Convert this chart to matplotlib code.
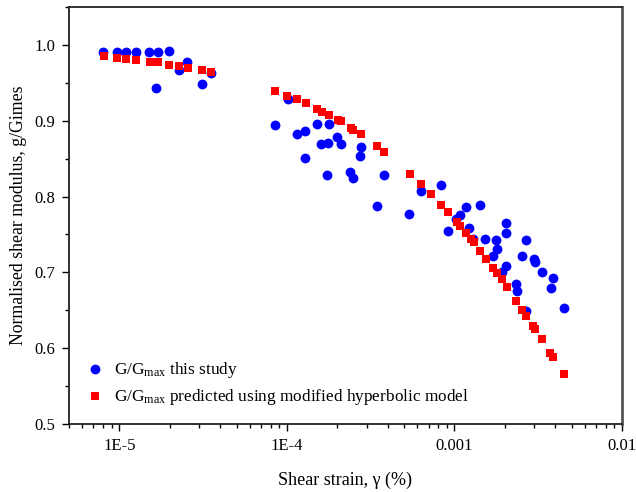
import matplotlib
matplotlib.use("Agg")
import matplotlib.pyplot as plt
from matplotlib.ticker import FixedLocator, FixedFormatter, LogLocator, MultipleLocator, NullFormatter

plt.rcParams['font.family'] = ['Liberation Serif', 'DejaVu Serif']
plt.rcParams['mathtext.fontset'] = 'custom'
plt.rcParams['mathtext.rm'] = 'Liberation Serif'
plt.rcParams['mathtext.it'] = 'Liberation Serif:italic'

# Measured G/Gmax
strain_study = [8.0e-6, 9.62e-6, 1.089e-5, 1.254e-5, 1.505e-5, 1.689e-5, 1.965e-5, 1.650e-5,
                2.254e-5, 2.535e-5, 3.114e-5, 3.510e-5,
                1.01e-4, 8.45e-5, 1.142e-4, 1.288e-4, 1.518e-4, 1.780e-4, 1.588e-4, 1.756e-4,
                1.986e-4, 2.089e-4, 2.776e-4, 2.723e-4, 1.288e-4, 1.741e-4, 2.374e-4, 2.487e-4,
                3.806e-4, 3.424e-4,
                8.32e-4, 6.32e-4, 5.335e-4, 1.1665e-3, 1.413e-3, 1.0844e-3, 1.022e-3, 9.11e-4,
                1.227e-3, 1.2965e-3, 2.030e-3, 2.030e-3, 1.522e-3, 1.770e-3, 1.784e-3, 1.698e-3,
                2.030e-3, 1.922e-3, 2.672e-3, 2.529e-3, 2.965e-3, 3.034e-3, 3.327e-3, 3.886e-3,
                3.765e-3, 2.328e-3, 2.361e-3, 2.672e-3, 4.519e-3]
ggmax_study = [0.991, 0.991, 0.991, 0.991, 0.991, 0.991, 0.992, 0.943,
               0.967, 0.978, 0.949, 0.963,
               0.928, 0.895, 0.882, 0.886, 0.896, 0.896, 0.869, 0.871,
               0.878, 0.869, 0.866, 0.854, 0.851, 0.829, 0.832, 0.825,
               0.828, 0.787,
               0.815, 0.807, 0.777, 0.786, 0.789, 0.775, 0.771, 0.755,
               0.759, 0.744, 0.765, 0.752, 0.744, 0.743, 0.731, 0.722,
               0.709, 0.700, 0.743, 0.721, 0.717, 0.714, 0.701, 0.692,
               0.679, 0.685, 0.675, 0.649, 0.653]

# Modified hyperbolic model prediction
strain_model = [8.08e-6, 9.62e-6, 1.089e-5, 1.254e-5, 1.520e-5, 1.689e-5, 1.972e-5, 2.272e-5,
                2.550e-5, 3.131e-5, 3.510e-5,
                8.45e-5, 1.0055e-4, 1.153e-4, 1.293e-4, 1.518e-4, 1.617e-4, 1.772e-4, 2.013e-4,
                2.110e-4, 2.397e-4, 2.487e-4, 2.750e-4, 3.424e-4, 3.806e-4,
                5.438e-4, 6.32e-4, 7.25e-4, 8.32e-4, 9.11e-4, 1.036e-3, 1.0844e-3, 1.1727e-3,
                1.249e-3, 1.300e-3, 1.427e-3, 1.543e-3, 1.689e-3, 1.784e-3, 1.911e-3, 2.047e-3,
                2.328e-3, 2.529e-3, 2.672e-3, 2.924e-3, 3.034e-3, 3.309e-3, 3.728e-3, 3.869e-3,
                4.476e-3]
ggmax_model = [0.985, 0.983, 0.982, 0.980, 0.978, 0.977, 0.974, 0.972,
               0.970, 0.967, 0.964,
               0.939, 0.933, 0.928, 0.923, 0.915, 0.912, 0.908, 0.901,
               0.899, 0.891, 0.888, 0.882, 0.867, 0.859,
               0.830, 0.817, 0.803, 0.789, 0.779, 0.766, 0.761, 0.752,
               0.744, 0.740, 0.728, 0.718, 0.706, 0.699, 0.691, 0.681,
               0.662, 0.651, 0.643, 0.629, 0.625, 0.612, 0.593, 0.588,
               0.566]

x_ticks = [1e-5, 1e-4, 1e-3, 1e-2]
x_tick_labels = ["1E-5", "1E-4", "0.001", "0.01"]
y_ticks = [0.5, 0.6, 0.7, 0.8, 0.9, 1.0]
y_tick_labels = ["0.5", "0.6", "0.7", "0.8", "0.9", "1.0"]

fig = plt.figure(figsize=(6.36, 4.92), dpi=100)
ax = fig.add_axes([69 / 636, 1 - 424 / 492, (622 - 69) / 636, (424 - 7) / 492])

ax.scatter(strain_study, ggmax_study, s=50, marker='o', color='#0000ff', linewidths=0,
           label=r"G/G$_{\mathrm{max}}$ this study", zorder=3)
ax.scatter(strain_model, ggmax_model, s=40, marker='s', color='#ff0000', linewidths=0,
           label=r"G/G$_{\mathrm{max}}$ predicted using modified hyperbolic model", zorder=4)

ax.set_xscale('log')
ax.set_xlim(5e-6, 1e-2)
ax.set_ylim(0.5, 1.05)

ax.xaxis.set_major_locator(FixedLocator(x_ticks))
ax.xaxis.set_major_formatter(FixedFormatter(x_tick_labels))
ax.xaxis.set_minor_locator(LogLocator(base=10, subs=range(2, 10), numticks=20))
ax.xaxis.set_minor_formatter(NullFormatter())
ax.yaxis.set_major_locator(FixedLocator(y_ticks))
ax.yaxis.set_major_formatter(FixedFormatter(y_tick_labels))
ax.yaxis.set_minor_locator(MultipleLocator(0.05))

ax.tick_params(axis='both', which='major', direction='out', length=5, width=1.0,
               labelsize=12, top=False, right=False, pad=5)
ax.tick_params(axis='both', which='minor', direction='out', length=3, width=1.0,
               top=False, right=False)

for side in ['left', 'bottom', 'top']:
    ax.spines[side].set_linewidth(1.3)
    ax.spines[side].set_color('#222222')
ax.spines['right'].set_linewidth(2.0)
ax.spines['right'].set_color('#555555')

ax.set_xlabel("Shear strain, γ (%)", fontsize=13, labelpad=13)
ax.set_ylabel("Normalised shear modulus, g/Gimes", fontsize=12.8, labelpad=5)

ax.legend(loc='lower left', bbox_to_anchor=(0.0, 0.0), frameon=False, fontsize=12.4,
          handletextpad=0.6, borderaxespad=0.6, labelspacing=0.4, scatterpoints=1,
          handlelength=1.0, borderpad=0.4)

fig.savefig("out.png", dpi=100)
